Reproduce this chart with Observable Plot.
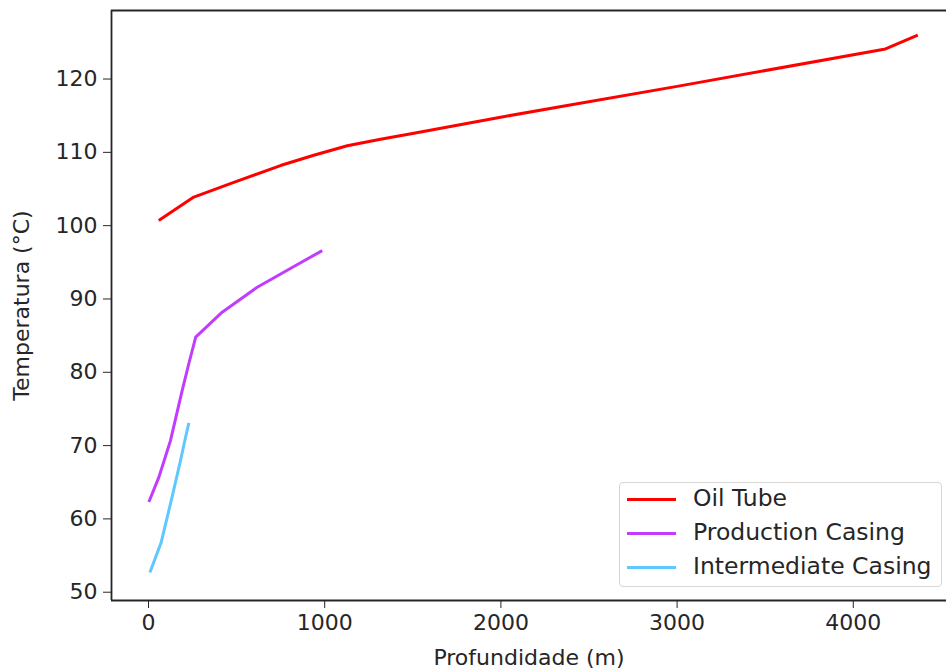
<!DOCTYPE html>
<html>
<head>
<meta charset="utf-8">
<script src="https://cdn.jsdelivr.net/npm/d3@7"></script>
<script src="https://cdn.jsdelivr.net/npm/@observablehq/plot@0.6"></script>
<style>
  html, body { margin: 0; padding: 0; background: #fff; }
  #wrap { position: relative; width: 946px; height: 668px; overflow: hidden; font-family: "DejaVu Sans", sans-serif; }
  #legend { position: absolute; left: 619px; top: 482px; width: 323px; height: 105px; box-sizing: border-box;
    border: 1px solid #d6d6d6; border-radius: 4px; background: rgba(255,255,255,0.8); }
  .item { position: absolute; left: 0; height: 34px; display: flex; align-items: center; }
  .swatch { position: absolute; left: 7px; width: 49px; height: 3px; }
  .lab { position: absolute; left: 73px; white-space: nowrap; font-size: 23.5px; color: #262626; line-height: 1; }
</style>
</head>
<body>
<div id="wrap"></div>
<script>
// Data
const seriesNames = ["Oil Tube", "Production Casing", "Intermediate Casing"];
const seriesColors = ["#ff0000", "#c23cff", "#5ec8ff"];

const oilDepth = [58, 257, 484, 749, 938, 1128, 1317, 1506, 1998, 2376, 3000, 4183, 4366];
const oilTemp  = [100.7, 103.9, 105.9, 108.2, 109.6, 110.9, 111.8, 112.6, 114.8, 116.4, 119.0, 124.1, 126.0];

const prodDepth = [2, 59, 125, 191, 229, 268, 418, 617, 815, 986];
const prodTemp  = [62.3, 65.7, 70.7, 77.5, 81.2, 84.8, 88.2, 91.6, 94.3, 96.6];

const interDepth = [8, 72, 134, 182, 210, 229];
const interTemp  = [52.7, 56.8, 63.0, 68.0, 71.1, 73.1];

const xTicks = [0, 1000, 2000, 3000, 4000];
const yTicks = [50, 60, 70, 80, 90, 100, 110, 120];
const xDomain = [-210, 4529];
const yDomain = [48.87, 129.35];

const rows = [];
[[oilDepth, oilTemp], [prodDepth, prodTemp], [interDepth, interTemp]].forEach(([d, t], i) => {
  d.forEach((v, j) => rows.push({series: seriesNames[i], depth: v, temp: t[j]}));
});

const plot = Plot.plot({
  width: 946,
  height: 668,
  marginLeft: 111,
  marginRight: 0,
  marginTop: 10,
  marginBottom: 68,
  style: { fontFamily: "DejaVu Sans, sans-serif", fontSize: "22px", color: "#262626", background: "#fff" },
  x: { domain: xDomain },
  y: { domain: yDomain },
  color: { domain: seriesNames, range: seriesColors },
  marks: [
    Plot.axisX({ ticks: xTicks, tickSize: 8, tickPadding: 6, tickFormat: d => String(d), label: "Profundidade (m)", labelAnchor: "center", labelArrow: "none", labelOffset: 64, fontSize: 22, stroke: "#262626" }),
    Plot.axisY({ ticks: yTicks, tickSize: 8, tickPadding: 6, tickFormat: d => String(d), label: "Temperatura (°C)", labelAnchor: "center", labelArrow: "none", labelOffset: 98, fontSize: 22, stroke: "#262626" }),
    Plot.line(rows, { x: "depth", y: "temp", z: "series", stroke: "series", strokeWidth: 3, strokeLinejoin: "round", strokeLinecap: "butt" }),
    Plot.ruleX([xDomain[0]], { stroke: "#262626", strokeWidth: 1.8 }),
    Plot.ruleY([yDomain[0], yDomain[1]], { stroke: "#262626", strokeWidth: 1.8 })
  ]
});

const wrap = document.getElementById("wrap");
wrap.appendChild(plot);

const legend = document.createElement("div");
legend.id = "legend";
seriesNames.forEach((name, i) => {
  const item = document.createElement("div");
  item.className = "item";
  item.style.top = (i * 34 - 1) + "px";
  item.style.width = "100%";
  const sw = document.createElement("div");
  sw.className = "swatch";
  sw.style.background = seriesColors[i];
  const lab = document.createElement("div");
  lab.className = "lab";
  lab.textContent = name;
  item.appendChild(sw);
  item.appendChild(lab);
  legend.appendChild(item);
});
wrap.appendChild(legend);
</script>
</body>
</html>
